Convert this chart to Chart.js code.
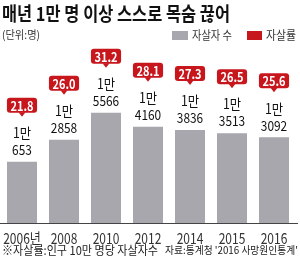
<!DOCTYPE html>
<html>
<head>
<meta charset="utf-8">
<script src="https://cdn.jsdelivr.net/npm/chart.js@4/dist/chart.umd.min.js"></script>
<style>
  html, body { margin: 0; padding: 0; background: #fff; }
  #wrap { position: relative; width: 300px; height: 272px; overflow: hidden; font-family: "Noto Sans CJK KR", sans-serif; }
  #wrap canvas { position: absolute; left: 0; top: 0; }
  .t { position: absolute; white-space: nowrap; transform-origin: 0 0; line-height: 1; }
  .sq { position: absolute; }
</style>
</head>
<body>
<div id="wrap">
  <canvas id="c" width="300" height="272"></canvas>
  <div class="t" data-w="228" style="left:2px;top:3px;font-size:19px;font-weight:bold;color:#111;">매년 1만 명 이상 스스로 목숨 끊어</div>
  <div class="t" data-w="38" style="left:2px;top:29px;font-size:11px;color:#333;">(단위:명)</div>
  <div class="sq" style="left:172px;top:31px;width:16px;height:9px;background:#a7a7ad;"></div>
  <div class="t" data-w="40" style="left:192px;top:29px;font-size:12px;color:#333;">자살자 수</div>
  <div class="sq" style="left:247px;top:31px;width:15px;height:9px;background:#c8161d;"></div>
  <div class="t" data-w="30" style="left:266px;top:29px;font-size:12px;color:#333;">자살률</div>
  <div class="t" data-w="156" style="left:2px;top:244px;font-size:12px;color:#222;">※자살률:인구 10만 명당 자살자수</div>
  <div class="t" data-w="133" style="left:165px;top:245px;font-size:10.5px;color:#222;">자료:통계청 '2016 사망원인통계'</div>
</div>
<script>
// 연도, 자살자 수, 자살률
const years = ["2006년", "2008", "2010", "2012", "2014", "2015", "2016"];
const deaths = [10653, 12858, 15566, 14160, 13836, 13513, 13092];
const rates = [21.8, 26.0, 31.2, 28.1, 27.3, 26.5, 25.6];

// 텍스트 폭 맞추기 (원본이 장체라서)
document.querySelectorAll(".t").forEach(el => {
  const w = el.getBoundingClientRect().width;
  el.style.transform = "scaleX(" + (el.dataset.w / w) + ")";
});

const RED = "#c8161d";
const BAR = "#a7a7ad";

function squeezeText(ctx, txt, x, y, sx) {
  ctx.save();
  ctx.translate(x, y);
  ctx.scale(sx, 1);
  ctx.fillText(txt, 0, 0);
  ctx.restore();
}

const labelsPlugin = {
  id: "labels",
  afterDatasetsDraw(chart) {
    const ctx = chart.ctx;
    const meta = chart.getDatasetMeta(0);
    const xs = chart.scales.x;
    ctx.save();
    // 바닥선
    ctx.strokeStyle = "#444";
    ctx.lineWidth = 1;
    ctx.beginPath();
    ctx.moveTo(0, chart.chartArea.bottom + 0.5);
    ctx.lineTo(298, chart.chartArea.bottom + 0.5);
    ctx.stroke();

    ctx.textAlign = "center";
    ctx.textBaseline = "middle";
    meta.data.forEach((bar, i) => {
      const x = bar.x, top = bar.y;
      // 값 라벨
      ctx.fillStyle = "#111";
      ctx.font = "14px 'Noto Sans CJK KR'";
      squeezeText(ctx, "1만", x, top - 29, 0.88);
      const rest = String(deaths[i] - 10000);
      squeezeText(ctx, rest, x, top - 12, 0.85);

      // 자살률 말풍선
      const txt = rates[i].toFixed(1);
      ctx.font = "bold 13px 'Noto Sans CJK KR'";
      const tw = ctx.measureText(txt).width * 0.85;
      const bw = tw + 7, bh = 15;
      const tip = top - 45;
      const by = tip - 4 - bh;
      const bx = x - bw / 2;
      ctx.fillStyle = RED;
      ctx.beginPath();
      ctx.roundRect(bx, by, bw, bh, 3);
      ctx.fill();
      ctx.beginPath();
      ctx.moveTo(x - 3.5, by + bh - 0.5);
      ctx.lineTo(x + 3.5, by + bh - 0.5);
      ctx.lineTo(x, tip);
      ctx.closePath();
      ctx.fill();
      ctx.fillStyle = "#fff";
      squeezeText(ctx, txt, x, by + bh / 2 + 0.5, 0.85);

      // x축 라벨
      ctx.fillStyle = "#333";
      ctx.font = "15px 'Noto Sans CJK KR'";
      const lw = ctx.measureText(years[i]).width * 0.8;
      let lx = xs.getPixelForValue(i);
      if (lx - lw / 2 < 1) lx = 1 + lw / 2;
      squeezeText(ctx, years[i], lx, 238, 0.8);
    });
    ctx.restore();
  }
};

new Chart(document.getElementById("c"), {
  type: "bar",
  data: {
    labels: years,
    datasets: [{
      label: "자살자 수",
      data: deaths,
      backgroundColor: BAR,
      categoryPercentage: 1,
      barPercentage: 0.714
    }]
  },
  options: {
    responsive: false,
    animation: false,
    layout: { padding: { left: 1, right: 5, top: 20, bottom: 49 } },
    plugins: { legend: { display: false }, tooltip: { enabled: false } },
    scales: {
      x: { display: false },
      y: { display: false, min: 4500, max: 24860 }
    }
  },
  plugins: [labelsPlugin]
});
</script>
</body>
</html>
